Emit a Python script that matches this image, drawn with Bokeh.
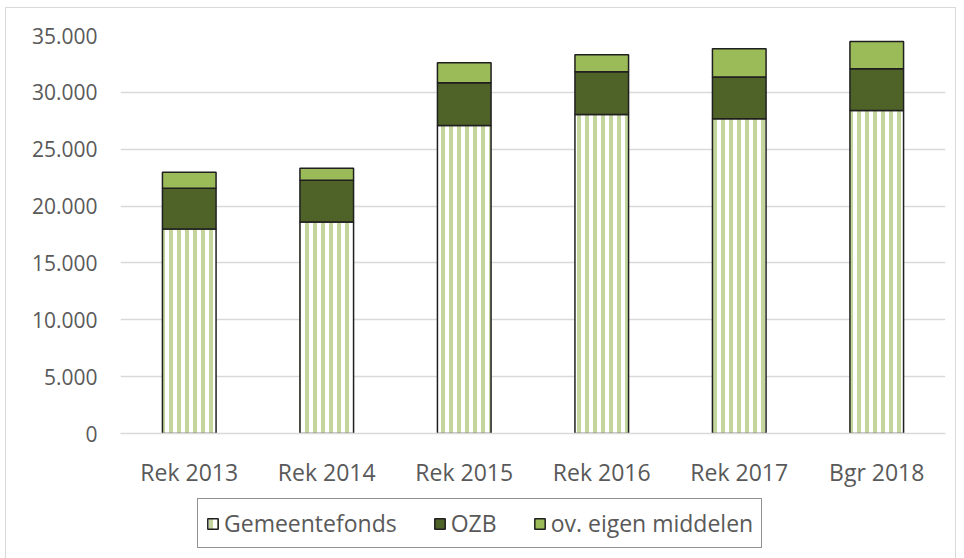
from bokeh.plotting import figure
from bokeh.layouts import column
from bokeh.models import (FactorRange, Range1d, FixedTicker, CustomJSTickFormatter,
                          Legend, LegendItem)
from bokeh.embed import file_html
from bokeh.resources import INLINE
import numpy as np

categories = ["Rek 2013", "Rek 2014", "Rek 2015", "Rek 2016", "Rek 2017", "Bgr 2018"]
gemeentefonds = [17980, 18590, 27080, 28050, 27670, 28400]
ozb = [3590, 3680, 3770, 3760, 3680, 3680]
ov_eigen = [1400, 1050, 1750, 1490, 2480, 2390]
series_names = ["Gemeentefonds", "OZB", "ov. eigen middelen"]
y_ticks = [0, 5000, 10000, 15000, 20000, 25000, 30000, 35000]

FONT = "Open Sans"
TXT = "#595959"
GRID = "#d9d9d9"
GF_STYLE = dict(fill_color="white", hatch_pattern="vertical_line", hatch_color="#c3d69b",
                hatch_scale=8, hatch_weight=4, line_color="#1f1f1f", line_width=1.5)
OZB_STYLE = dict(fill_color="#4f6228", line_color="#1f1f1f", line_width=1.5)
OV_STYLE = dict(fill_color="#9bbb59", line_color="#1f1f1f", line_width=1.5)

p = figure(x_range=FactorRange(*categories), y_range=Range1d(0, 35000),
           width=949, height=482, output_backend="svg", toolbar_location=None,
           min_border_left=114, min_border_right=10, min_border_top=27,
           min_border_bottom=55)
p.outline_line_color = None
p.background_fill_color = "white"
p.border_fill_color = "white"

b1 = np.array(gemeentefonds, dtype=float)
b2 = b1 + np.array(ozb, dtype=float)
b3 = b2 + np.array(ov_eigen, dtype=float)

W = 0.39
p.vbar(x=categories, bottom=0, top=b1, width=W, **GF_STYLE)
p.vbar(x=categories, bottom=b1, top=b2, width=W, **OZB_STYLE)
p.vbar(x=categories, bottom=b2, top=b3, width=W, **OV_STYLE)

# axes
p.yaxis.ticker = FixedTicker(ticks=y_ticks)
p.yaxis.formatter = CustomJSTickFormatter(
    code="return tick.toFixed(0).replace(/\\B(?=(\\d{3})+(?!\\d))/g, '.');")
p.yaxis.axis_line_color = None
p.yaxis.major_tick_line_color = None
p.yaxis.minor_tick_line_color = None
p.yaxis.major_label_standoff = 17
p.yaxis.major_label_text_font = FONT
p.yaxis.major_label_text_font_size = "21px"
p.yaxis.major_label_text_color = TXT

p.xaxis.axis_line_color = GRID
p.xaxis.axis_line_width = 1.5
p.xaxis.major_tick_line_color = None
p.xaxis.minor_tick_line_color = None
p.xaxis.major_label_standoff = 16
p.xaxis.major_label_text_font = FONT
p.xaxis.major_label_text_font_size = "23px"
p.xaxis.major_label_text_color = TXT

p.xgrid.grid_line_color = None
p.ygrid.grid_line_color = GRID
p.ygrid.grid_line_width = 1.5
p.x_range.range_padding = 0.0
p.x_range.group_padding = 0.0

# legend strip (separate small figure holding only the legend)
pl = figure(width=949, height=68, output_backend="svg", toolbar_location=None,
            x_range=Range1d(0, 1), y_range=Range1d(0, 1),
            x_axis_type=None, y_axis_type=None,
            min_border_left=0, min_border_right=0, min_border_top=0, min_border_bottom=0)
pl.outline_line_color = None
pl.grid.grid_line_color = None
pl.background_fill_color = "white"
pl.border_fill_color = "white"
d1 = pl.vbar(x=[0.5], bottom=[5], top=[6], width=0.1, **GF_STYLE)
d2 = pl.vbar(x=[0.5], bottom=[5], top=[6], width=0.1, **OZB_STYLE)
d3 = pl.vbar(x=[0.5], bottom=[5], top=[6], width=0.1, **OV_STYLE)
for d in (d1, d2, d3):
    d.visible = False

legend = Legend(items=[LegendItem(label=series_names[0], renderers=[d1]),
                       LegendItem(label=series_names[1], renderers=[d2]),
                       LegendItem(label=series_names[2], renderers=[d3])],
                orientation="horizontal", location=(77, 10),
                label_text_font=FONT, label_text_font_size="23px",
                label_text_color=TXT, glyph_width=13, glyph_height=13,
                label_standoff=5, spacing=36, padding=8, margin=0,
                border_line_color="#262626", border_line_width=1.5,
                background_fill_color="white", inactive_fill_alpha=0.0)
pl.add_layout(legend, "center")

layout = column(p, pl, spacing=0,
                styles={"border": "1px solid #d9d9d9", "margin-left": "5px",
                        "margin-top": "7px"})

open("out.html", "w").write(file_html(layout, INLINE))
